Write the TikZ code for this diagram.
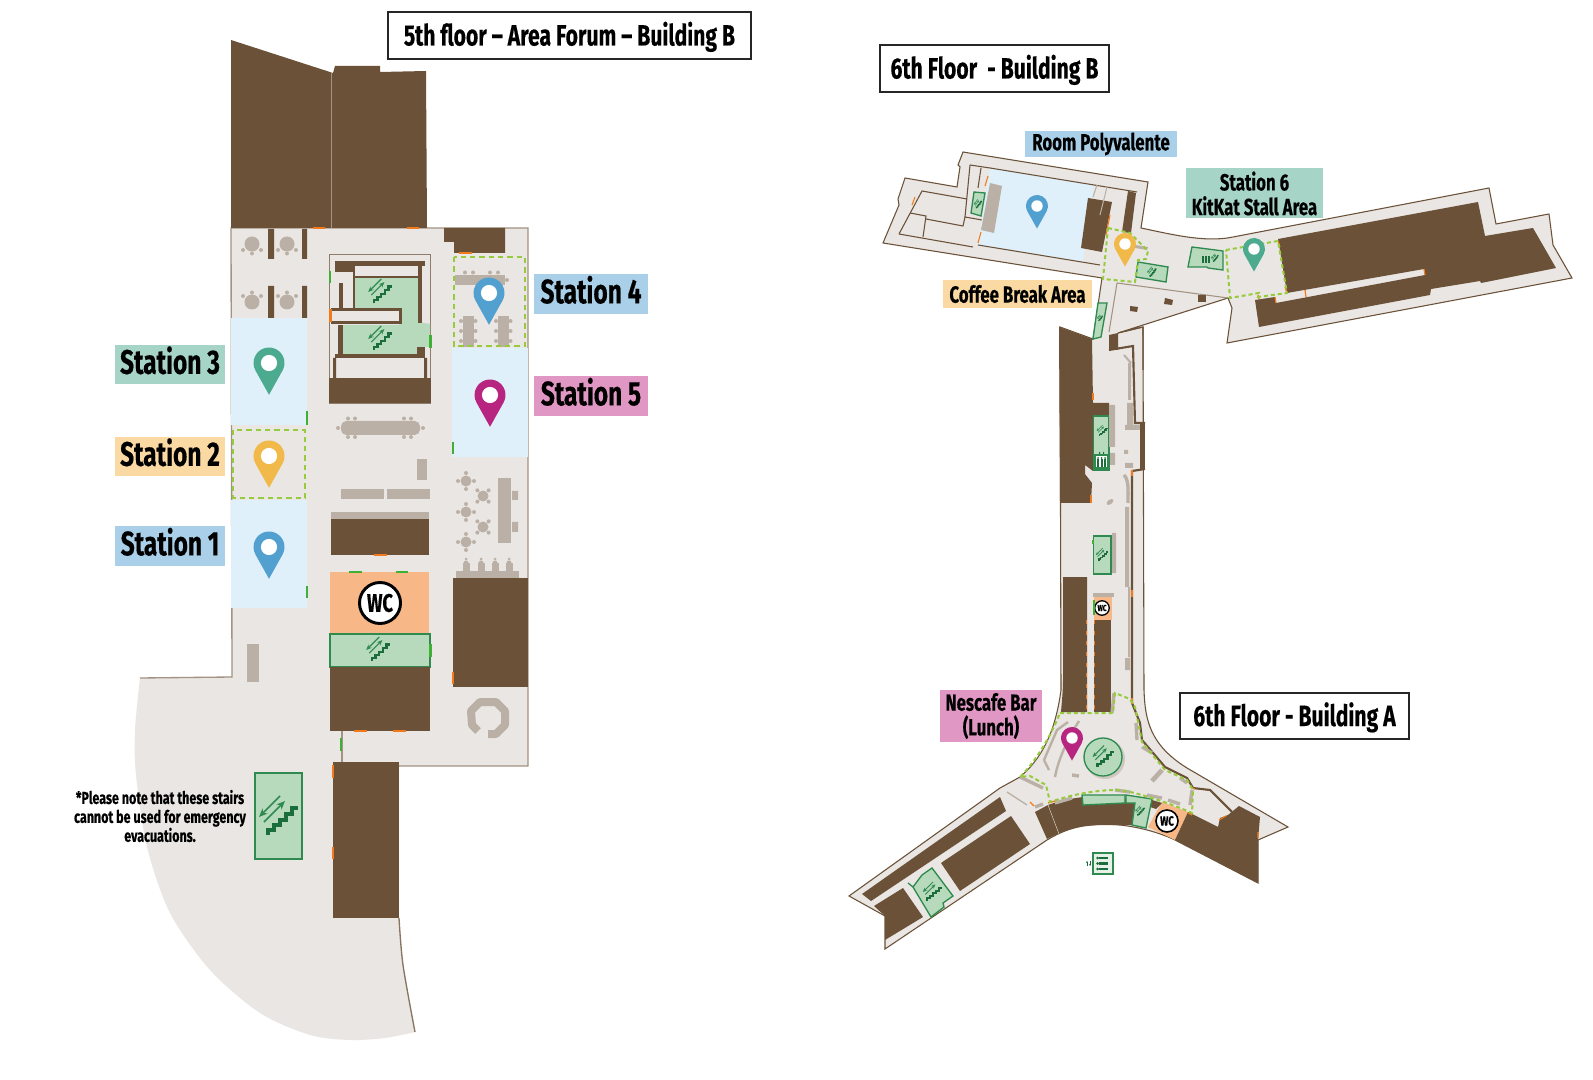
\documentclass[tikz,border=0pt]{standalone}
\usepackage{fontspec}
\usetikzlibrary{arrows.meta,calc}
\newfontfamily\lbl[FakeStretch=0.72,BoldFeatures={FakeBold=0.35}]{Fira Sans}
\definecolor{floorc}{HTML}{EAE6E3}
\definecolor{brownc}{HTML}{6A5138}
\definecolor{greenc}{HTML}{B7DABD}
\definecolor{greenl}{HTML}{2F8A4F}
\definecolor{greend}{HTML}{1B6E3B}
\definecolor{bluec}{HTML}{DFF0FA}
\definecolor{greyc}{HTML}{BBB0A5}
\definecolor{wallc}{HTML}{A39383}
\definecolor{orangec}{HTML}{F27A1A}
\definecolor{doorc}{HTML}{3EB135}
\definecolor{dashc}{HTML}{96CB3E}
\definecolor{wcc}{HTML}{F8B786}
\definecolor{lbblue}{HTML}{A9D0E8}
\definecolor{lbgreen}{HTML}{A6D5C7}
\definecolor{lbyellow}{HTML}{FAD9A3}
\definecolor{lbpink}{HTML}{E197C3}
\definecolor{pinblue}{HTML}{52A0D0}
\definecolor{pingreen}{HTML}{4CAB8F}
\definecolor{pinyellow}{HTML}{F1B84A}
\definecolor{pinmag}{HTML}{B82580}
\tikzset{
  floorfill/.style={fill=floorc},
  brownblk/.style={fill=brownc},
  greyblk/.style={fill=greyc},
  bluerm/.style={fill=bluec},
  greenrm/.style={fill=greenc,draw=greenl,line width=1pt},
  wall5/.style={draw=wallc,line width=1pt},
  wall6/.style={draw=brownc,line width=0.8pt},
  wallthick/.style={draw=brownc,line width=1.6pt},
  orangedoor/.style={draw=orangec,line width=1.6pt},
  greendoor/.style={draw=doorc,line width=1.6pt},
  zone/.style={draw=dashc,line width=1.5pt,dash pattern=on 3pt off 2.2pt},
  zonebig/.style={draw=dashc,line width=2.2pt,dash pattern=on 4pt off 3pt},
  greyline/.style={draw=greyc,line width=2.5pt},
  titlebox/.style={draw=black!85,line width=1pt,fill=white,inner sep=0pt,text height=18pt,text depth=3pt,font=\lbl\bfseries\fontsize{22}{24}\selectfont},
  tag/.style={inner sep=0pt,text height=17pt,text depth=3pt,font=\lbl\bfseries\fontsize{25.5}{26}\selectfont},
  tagsm/.style={inner sep=0pt,font=\lbl\bfseries\fontsize{17.5}{18.5}\selectfont,align=center},
  wcbig/.style={circle,draw=black,line width=2.2pt,fill=white,minimum size=41pt*0.75,inner sep=0pt,font=\lbl\bfseries\fontsize{19}{20}\selectfont},
  wcsmall/.style={circle,draw=black,line width=1pt,fill=white,inner sep=0pt,font=\lbl\bfseries},
}
% pin: x y radius colour
\newcommand\mapPin[4]{\begin{scope}[shift={(#1,#2)}]
  \fill[#4] (0,#3*2.05) -- (30:#3) arc[start angle=30,end angle=-210,radius=#3] -- cycle;
  \fill[white] (0,0) circle[radius=#3*0.52];
\end{scope}}
% stairs: x y scale rotate
\newcommand\stairIcon[4]{\begin{scope}[shift={(#1,#2)},rotate=#4,scale=#3]
  \draw[greenl,line width=#3*1.1pt+0.15pt,-{Stealth[length=#3*6pt+0.4pt,width=#3*5pt+0.4pt]}] (2,-21) -- (-19,0);
  \draw[greenl,line width=#3*1.1pt+0.15pt,-{Stealth[length=#3*6pt+0.4pt,width=#3*5pt+0.4pt]}] (-14,5) -- (7,-16);
  \draw[greend,line width=#3*2.4pt+0.35pt] (-10,18) -- (-10,13) -- (-4,13) -- (-4,8) -- (2,8) -- (2,3) -- (8,3) -- (8,-3) -- (14,-3) -- (14,-9) -- (20,-9);
\end{scope}}
% round table with three chairs: x y side
\newcommand\roundT[3]{\begin{scope}[shift={(#1,#2)},yscale=#3]
  \fill[greyc] (0,0) circle[radius=7.5];
  \fill[greyc] (-9,6) circle[radius=2] (9,6) circle[radius=2] (0,9.5) circle[radius=2];
\end{scope}}
\newcommand\plusT[3]{\begin{scope}[shift={(#1,#2)},rotate=#3]
  \fill[greyc] (0,0) circle[radius=5.5];
  \fill[greyc] (-8,0) circle[radius=2] (8,0) circle[radius=2] (0,8) circle[radius=2] (0,-8) circle[radius=2];
\end{scope}}
\newcommand\manIcon[3]{\begin{scope}[shift={(#1,#2)},rotate=#3]
  \fill[greend] (-4,-1.4) rectangle (5,1.4);
  \fill[greend] (-5.5,0) circle[radius=1.5];
\end{scope}}
\begin{document}
\begin{tikzpicture}[x=0.75pt,y=-0.75pt]
\useasboundingbox (0,0) rectangle (1593,1080);
\fill[white] (0,0) rectangle (1593,1080);

%%%%%%%%%%%%% 5th floor
\fill[floorfill] (231,228) -- (528,228) -- (528,766) -- (399,766) -- (399,918)
  -- plot[smooth] coordinates {(399,918) (403,965) (415,1032)}
  -- plot[smooth] coordinates {(415,1032) (385,1038) (350,1040) (310,1035) (260,1013) (210,970) (170,913) (147,847) (136,775) (135,730) (140,678)}
  -- (232,677) -- cycle;
\draw[wall5] (140,678) -- (232,677) -- (231,228) -- (528,228) -- (528,766) -- (399,766);
\draw[wall5] (342,731) -- (342,762);
\draw[wall5,line width=1pt,draw=brownc!80] plot[smooth] coordinates {(399,918) (403,965) (415,1032)};

\fill[brownblk] (231,40) -- (333,73) -- (335,66) -- (380,66) -- (380,72) -- (426,71) -- (427,228) -- (231,228) -- cycle;
\draw[wallc,line width=0.5pt] (331,73) -- (331,228);

% blue rooms
\fill[bluerm] (231,318) rectangle (307,425);
\fill[bluerm] (231,500) rectangle (307,608);
\fill[bluerm] (452,348) rectangle (527.5,457);

% pillars and tables
\fill[brownblk] (268,229) rectangle (274,259) (302,229) rectangle (307,259) (268,286) rectangle (274,318) (302,286) rectangle (307,318);
\roundT{252}{244}{1}
\roundT{287}{244}{1}
\roundT{252}{302}{-1}
\roundT{287}{302}{-1}

% core
\draw[wall5,fill=floorc,line width=1.2pt,draw=brownc!75] (329.5,254.5) rectangle (430.5,403);
\fill[greenc] (354,278) -- (418,278) -- (418,322) -- (430,324) -- (430,347) -- (417,347) -- (417,354) -- (343,354) -- (343,325) -- (399,325) -- (399,309) -- (354,309) -- cycle;
\fill[brownblk] (335,261) rectangle (425,266);
\fill[brownblk] (335,266) rectangle (353,272);
\fill[brownblk] (353,266) rectangle (355,309);
\fill[brownblk] (355,276) rectangle (418,278);
\fill[brownblk] (418,266) rectangle (422,323);
\fill[brownblk] (339,283) rectangle (343,309);
\fill[brownblk] (331,308) rectangle (402,324);
\fill[floorfill] (331,311) rectangle (399,321);
\fill[brownblk] (338,325) rectangle (343,358);
\fill[brownblk] (335,354) rectangle (425,358);
\fill[brownblk] (417,347) rectangle (425,358);
\fill[brownblk] (329,378) rectangle (431,403);
\fill[brownblk] (333,358) rectangle (336,378) (424,358) rectangle (427,378);
\stairIcon{380}{292}{0.62}{0}
\stairIcon{380}{339}{0.62}{0}
\draw[greendoor] (330,271) -- (330,283);
\draw[orangedoor,line width=2.5pt] (330.5,309) -- (330.5,322);
\draw[greendoor] (430.5,335) -- (430.5,348);

% top right
\fill[brownblk] (444,228) -- (505,228) -- (505,253) -- (454,253) -- (454,242) -- (444,242) -- cycle;
\draw[orangedoor] (313,228) -- (325,228) (407,228) -- (419,228) (459,253) -- (472,253);

% station 4 furniture
\fill[greyc] (455,275) rectangle (505,285);
\foreach \a in {465,473,490,498} \fill[greyc] (\a,272.5) circle[radius=2];
\fill[greyc] (507,280) circle[radius=2];
\foreach \a in {463,498} {
  \fill[greyc] (\a,316) rectangle (\a+10.5,347);
  \foreach \b in {321,331,341} { \fill[greyc] (\a-2,\b) circle[radius=2]; \fill[greyc] (\a+12.5,\b) circle[radius=2]; }
}
\draw[zonebig] (454,257) rectangle (525,346);

% conference table
\fill[greyc,rounded corners=4pt] (341,421) rectangle (420,435);
\fill[greyc] (338,428) circle[radius=2] (423,428) circle[radius=2];
\foreach \a in {348,355,404,411} {\fill[greyc] (\a,437) circle[radius=2]; \fill[greyc] (\a,418.5) circle[radius=2];}

\fill[greyblk] (417,459) rectangle (427,480);
\fill[greyblk] (341,489) rectangle (384,499);
\fill[greyblk] (387,489) rectangle (430,499);
\fill[greyblk] (331,512) rectangle (429,519);
\fill[brownblk] (331,519) rectangle (429,555);
\draw[orangedoor] (374,555) -- (387,555);

% WC and stairs
\fill[wcc] (330,572) rectangle (429,633);
\draw[greendoor] (349,572) -- (362,572) (396,572) -- (408,572);
\node[wcbig] (wc5) at (380,603) {WC};
\draw[greenrm] (330,634) rectangle (430,667);
\stairIcon{378}{650}{0.62}{0}
\draw[greendoor] (430.5,644) -- (430.5,657);
\fill[brownblk] (330,667) rectangle (430,731);
\draw[orangedoor] (354,731) -- (367,731) (393,731) -- (406,731);
\draw[greendoor] (341,738) -- (341,751);
\fill[brownblk] (333,762) rectangle (399,918);
\draw[orangedoor] (333,765) -- (333,778) (333,847) -- (333,859);

% right side
\fill[greyblk] (456,571) rectangle (519,578);
\foreach \a in {466,481,495,509} {\fill[greyc] (\a,563) circle[radius=2.5]; \fill[greyc] (\a-3.5,563) rectangle (\a+3.5,571);\fill[greyc] (\a,559) circle[radius=1.5];}
\fill[brownblk] (453,578) rectangle (528,687);
\draw[orangedoor] (453,672) -- (453,684);
\fill[greyblk] (498,478) rectangle (511,543);
\fill[greyblk] (512,491) rectangle (518,500) (512,522) rectangle (518,532);
\plusT{466}{481}{0}
\plusT{466}{512}{0}
\plusT{466}{542}{0}
\plusT{483}{496}{45}
\plusT{483}{527}{45}
% ring
\draw[greyc,line width=8pt*0.75,line join=round] (478,731) -- (472,725) -- (471,711) -- (480,702) -- (496,702) -- (505,711) -- (505,725) -- (496,734) -- (488,734);
\fill[greyblk] (247,644) rectangle (259,682);

% green doors on rooms
\draw[greendoor] (307,411) -- (307,425) (453,442) -- (453,454) (307,586) -- (307,598);
\draw[zonebig] (233,430) rectangle (305,498);

% bottom stairs
\draw[greenrm] (255,773) rectangle (302,859);
\stairIcon{278}{817}{1}{0}

% pins
\mapPin{269}{363}{15.5}{pingreen}
\mapPin{269}{456}{15.5}{pinyellow}
\mapPin{269}{547}{15.5}{pinblue}
\mapPin{489}{293}{15.5}{pinblue}
\mapPin{490}{395}{15.5}{pinmag}

%%%%%%%%%%%%% 6th floor
\path[floorfill,wall6] (883,243) -- (899,205) -- (898,199) -- (905,178) -- (957,187) -- (960,167) -- (958,165) -- (963,152) -- (1148,182) -- (1141,228)
  .. controls (1170,234) and (1205,243) .. (1233,237)
  -- (1489,188) -- (1496,224) -- (1549,214) -- (1553,245) -- (1572,278) -- (1227,343) -- (1232,308) -- (1228,298) -- (1118,333) -- (1143,327) -- (1144,690)
  .. controls (1145,720) and (1150,745) .. (1187,768)
  -- (1288,827) -- (1258,840) -- (1258,883) -- (1175,840)
  .. controls (1150,828) and (1115,822) .. (1093,825)
  .. controls (1075,826) and (1060,832) .. (1047,840)
  -- (885,949) -- (885,916) -- (849,896) -- (1000,788) -- (1020,777)
  .. controls (1040,760) and (1055,735) .. (1061,690)
  -- (1060,327) -- (1093,339) -- (1102,278) -- cycle;

% upper west interior walls
\draw[wall6] (899,234) -- (922,191) -- (967,199);
\draw[wall6] (899,234) -- (973,247);
\draw[wall6] (910,213) -- (926,216) -- (923,237);
\draw[wall6] (926,219) -- (963,226) -- (965,217) -- (982,220);
\draw[wall6] (970,165) -- (990,168);
\draw[wall6] (981,168) -- (978,188) (970,165) -- (965,217);

% Polyvalente
\fill[bluerm] (990,168) -- (1094,185) -- (1083,262) -- (978,245) -- cycle;
\draw[wall6] (978,245) -- (1100,265);
\draw[wall6] (990,168) -- (1137,192);
\fill[greyblk] (990,183) -- (1002,186) -- (994,233) -- (981,230) -- cycle;
\fill[brownblk] (1088,198) -- (1112,202) -- (1102,252) -- (1081,248) -- cycle;
\draw[greenrm] (974,192) -- (985,193) -- (981,216) -- (971,213) -- cycle;
\stairIcon{978}{204}{0.22}{10}
\fill[brownblk] (1128,191) -- (1136,193) -- (1131,233) -- (1122,232) -- cycle;
\draw[wall6,draw=greyc] (1097,185) -- (1093,197) (1107,187) -- (1100,215);
\draw[orangedoor,line width=0.8pt] (988,176) -- (985,186) (981,232) -- (978,243) (1110,215) -- (1106,235);
\draw[orangedoor,line width=0.8pt] (912,205) -- (915,197);

% middle stall area
\draw[wall6,draw=wallc] (1117,283) -- (1228,298);
\draw[wall6,draw=wallc] (1117,283) -- (1109,332);
\fill[greyc] (1135,245) -- (1148,247) -- (1147,250) -- (1135,248) -- cycle;
\draw[greenrm] (1138,262) -- (1168,267) -- (1166,282) -- (1136,277) -- cycle;
\stairIcon{1152}{272}{0.25}{10}
\draw[greenrm] (1192,247) -- (1200,248) -- (1223,251) -- (1223,270) -- (1208,268) -- (1207,267) -- (1188,267) -- cycle;
\stairIcon{1215}{258}{0.2}{10}
\foreach \a in {1202,1205,1208} \fill[greend] (\a,256) rectangle ++(1.5,7);
\fill[brownblk] (1130,306) -- (1138,307) -- (1137,312) -- (1130,311) -- cycle;
\fill[brownblk] (1165,298) -- (1173,300) -- (1172,305) -- (1164,304) -- cycle;
\fill[brownblk] (1198,295) -- (1206,295) -- (1206,302) -- (1198,302) -- cycle;
\draw[zone] (1108,228) -- (1130,233) -- (1148,251) -- (1146,259) -- (1138,260) -- (1135,282) -- (1103,279) -- cycle;
\draw[wall6] (1118,333) -- (1143,327) -- (1143,370);

% east wing
\fill[brownblk] (1278,239) -- (1478,202) -- (1485,236) -- (1533,228) -- (1556,268) -- (1481,283) -- (1480,281) -- (1431,289) -- (1430,295) -- (1259,327) -- (1255,300) -- (1275,297) -- (1276,303) -- (1425,275) -- (1424,269) -- (1287,293) -- cycle;
\draw[orangedoor,line width=0.9pt] (1424,269) -- (1425,275) (1305,290) -- (1306,297) (1275,297) -- (1276,303) (1258,295) -- (1259,299) (1278,241) -- (1280,247) (1285,287) -- (1287,293);
\draw[zone] (1226,250) -- (1278,241) -- (1287,293) -- (1258,297) -- (1259,293) -- (1230,298) -- cycle;

% main corridor
\draw[greenrm] (1098,303) -- (1107,303) -- (1101,337) -- (1093,339) -- cycle;
\stairIcon{1100}{318}{0.16}{10}
\fill[brownblk] (1059,327) -- (1092,339) -- (1093,403) -- (1109,403) -- (1109,416) -- (1093,416) -- (1093,471) -- (1085,465) -- (1085,474) -- (1092,483) -- (1091,503) -- (1060,503) -- cycle;
\draw[greenrm] (1093.5,416) rectangle (1109,470);
\stairIcon{1102}{431}{0.28}{0}
\draw[greenl,line width=0.8pt,fill=white] (1095,455) rectangle (1108,468);
\foreach \a in {1098,1101.5,1105} {\fill[greend] (\a-1,459) rectangle (\a+1,467); \fill[greend] (\a,458) circle[radius=1];}
\fill[greend] (1099,452) rectangle (1100,454) (1103,452) rectangle (1104,454);
\draw[greenrm] (1093.5,536) rectangle (1111,574);
\stairIcon{1102}{555}{0.32}{0}
\fill[brownblk] (1063,577) -- (1087,577) -- (1087,712) -- (1061,712) .. controls (1062,700) and (1063,690) .. (1063,680) -- cycle;
\fill[brownblk] (1094,620) rectangle (1111,712);
\fill[wcc] (1094,597) rectangle (1112,620);
\fill[greyblk] (1093,593) rectangle (1114,597);
\node[wcsmall,minimum size=14.5pt*0.75,font=\lbl\bfseries\fontsize{6.5}{7}\selectfont] (wc6a) at (1102,608) {WC};
\draw[orangedoor,line width=0.6pt,dash pattern=on 3pt off 5pt] (1086,620) -- (1086,710) (1094,620) -- (1094,710);
\draw[orangedoor,line width=1pt] (1093,393) -- (1093,400) (1091,495) -- (1091,503);
\draw[greendoor,line width=1pt] (1094,600) -- (1094,615) (1093,540) -- (1093,544);
% corridor furniture
\fill[greyblk] (1109,405) rectangle (1115,447) (1110,453) rectangle (1115,465) (1127,403) rectangle (1133,430) (1125,425) rectangle (1140,430) (1125,463) rectangle (1133,468) (1124,450) rectangle (1128,454) (1112,533) rectangle (1116,573);
\fill[greyc,rotate around={35:(1110,502)}] (1110,502) ellipse[x radius=4,y radius=2.2];
\fill[greyblk] (1128,363) rectangle (1131,400) (1125,507) rectangle (1129,587) (1128,587) rectangle (1130,657) (1125,658) rectangle (1130,670);
\draw[greyline] (1124,475) .. controls (1129,480) and (1128,490) .. (1128,503);
\draw[greyline,line width=1.5pt] (1124,355) -- (1131,363);
% right wall
\fill[brownblk] (1109,335) -- (1118,333) -- (1118,350) -- (1109,350) -- cycle;
\fill[brownblk] (1140,423) rectangle (1145,469);
\draw[wallthick] (1109,350) -- (1133,346) -- (1135,423) -- (1145,423) (1145,469) -- (1132,471) -- (1132,703) -- (1140,723) -- (1142,740) -- (1165,767) -- (1187,778) -- (1193,788) -- (1210,790) -- (1232,812);
\draw[orangedoor,line width=1pt] (1132,590) -- (1132,597) (1132,698) -- (1132,704) (1132,470) -- (1132,476);

% rotunda
\fill[brownblk] (1035,812) -- (1048,805) .. controls (1070,797) and (1105,792) .. (1135,800) -- (1132,825) -- (1093,825) .. controls (1075,826) and (1060,832) .. (1047,839) -- cycle;
\draw[floorc,line width=0.3pt] (1048,805) -- (1059,834);
\fill[wcc] (1162,802) -- (1188,812) -- (1175,840) -- (1148,827) -- cycle;
\fill[brownblk] (1152,800) -- (1162,803) -- (1156,809) -- (1150,807) -- cycle;
\node[wcsmall,minimum size=22pt*0.75,line width=1.2pt,font=\lbl\bfseries\fontsize{10}{11}\selectfont] (wc6b) at (1167,821) {WC};
\draw[greenrm] (1082,795) -- (1125,795) -- (1125,803) -- (1083,805) -- cycle;
\draw[greenrm] (1126,795) -- (1152,799) -- (1146,828) -- (1132,825) -- (1135,803) -- (1126,803) -- cycle;
\stairIcon{1140}{811}{0.25}{5}
\fill[brownblk] (1188,812) -- (1218,827) -- (1220,818) -- (1228,815) -- (1239,806) -- (1260,817) -- (1258,840) -- (1258,883) -- (1175,840) -- cycle;
\draw[orangedoor,line width=0.8pt] (1258,832) -- (1258,838) (1219,820) -- (1226,816) (1190,787) -- (1195,789);
\draw[wall6,draw=greyc,line width=1.8pt] (1044,760) -- (1057,730) -- (1068,722) (1044,760) -- (1049,770);
\draw[wall6,draw=greyc,line width=1.8pt] (1079,721) .. controls (1068,738) and (1058,760) .. (1055,777);
\draw[greyline,line width=2.5pt] (1072,775) -- (1079,776);
\draw[greyline,line width=3.5pt] (1152,781) -- (1162,770);
\draw[greyline] (1020,777) -- (1043,788);
\draw[greyline] (1035,807) -- (1043,804) (1055,803) -- (1072,798) (1115,790) -- (1130,792) (1147,795) -- (1162,798) (1168,800) -- (1180,804) (1136,723) -- (1137,740) (1142,747) -- (1152,753) (1180,778) -- (1187,783) (1192,790) -- (1190,805) (1114,693) -- (1112,713);
\draw[greyline,line width=1pt] (1007,792) -- (1027,805);
\draw[orangedoor,line width=1pt] (1030,802) -- (1034,806) (1048,803) -- (1055,801) (1188,813) -- (1192,815);
\draw[zone] (1060,713) -- (1113,713) -- (1115,693) -- (1130,699) -- (1135,707) -- (1142,742) -- (1165,770) -- (1187,780) -- (1193,790) -- (1192,813) .. controls (1170,803) and (1130,790) .. (1117,790) .. controls (1095,790) and (1070,795) .. (1050,802) -- (1046,785) -- (1030,776) -- (1020,777) .. controls (1035,762) and (1050,738) .. (1060,713) -- cycle;
\fill[greyc!70] (1105,759) circle[radius=20];
\draw[greenrm] (1103,757) circle[radius=19];
\stairIcon{1103}{757}{0.55}{0}

% south-west wing
\fill[brownblk] (862,894) -- (1000,797) -- (1006,811) -- (871,901) -- cycle;
\fill[brownblk] (874,906) -- (903,888) -- (923,917) -- (885,940) -- (885,916) -- cycle;
\fill[brownblk] (941,863) -- (1011,816) -- (1030,844) -- (960,891) -- cycle;
\draw[greenrm] (913,887) -- (922,875) -- (932,868) -- (953,896) -- (943,903) -- (944,907) -- (931,917) -- cycle;
\draw[greenl,line width=1pt] (908,883) -- (913,887);
\stairIcon{932}{892}{0.48}{0}

% toilets icon
\draw[greenl,line width=1pt,fill=greenc!35] (1093,853) rectangle (1113,874);
\manIcon{1103}{858}{0}
\manIcon{1103}{863.5}{0}
\manIcon{1103}{869}{0}
\draw[greend,line width=0.7pt,-{Stealth[length=1.5pt,width=1.5pt]}] (1087,866) -- (1087,861);
\draw[greend,line width=0.7pt,-{Stealth[length=1.5pt,width=1.5pt]}] (1090,861) -- (1090,866);

% 6th pins
\mapPin{1037}{206}{11}{pinblue}
\mapPin{1125}{244}{11}{pinyellow}
\mapPin{1254}{249}{11}{pingreen}
\mapPin{1072}{738}{11}{pinmag}

%%%%%%%%%%%%% labels
\node[titlebox,minimum width=363*0.75pt,minimum height=47*0.75pt] (t5) at (569.5,35.5) {5th floor – Area Forum – Building B};
\node[titlebox,minimum width=229*0.75pt,minimum height=47*0.75pt] (t6b) at (994.5,68.5) {6th Floor\ \ - Building B};
\node[titlebox,minimum width=229*0.75pt,minimum height=46*0.75pt] (t6a) at (1294.5,716) {6th Floor - Building A};

\node[tag,fill=lbgreen,minimum width=110*0.75pt,minimum height=39.5*0.75pt] (s3) at (170,364.5) {Station 3};
\node[tag,fill=lbyellow,minimum width=110*0.75pt,minimum height=39.5*0.75pt] (s2) at (170,456.5) {Station 2};
\node[tag,fill=lbblue,minimum width=110*0.75pt,minimum height=39.5*0.75pt] (s1) at (170,546) {Station 1};
\node[tag,fill=lbblue,minimum width=114*0.75pt,minimum height=39.5*0.75pt] (s4) at (591,294) {Station 4};
\node[tag,fill=lbpink,minimum width=114*0.75pt,minimum height=39.5*0.75pt] (s5) at (591,396) {Station 5};

\node[tagsm,fill=lbblue,minimum width=152*0.75pt,minimum height=26*0.75pt] (rp) at (1101,144) {Room Polyvalente};
\node[tagsm,fill=lbgreen,minimum width=137*0.75pt,minimum height=50*0.75pt] (s6) at (1254.5,193.5) {Station 6\\KitKat Stall Area};
\node[tagsm,fill=lbyellow,minimum width=149*0.75pt,minimum height=28*0.75pt] (cb) at (1017.5,294) {Coffee Break Area};
\node[tagsm,fill=lbpink,minimum width=102*0.75pt,minimum height=52*0.75pt] (nb) at (991,716) {Nescafe Bar\\(Lunch)};

\node[inner sep=0pt,align=center,font=\lbl\bfseries\fontsize{13}{14.2}\selectfont] (note) at (160,816) {*Please note that these stairs\\cannot be used for emergency\\evacuations.};
\end{tikzpicture}
\end{document}
